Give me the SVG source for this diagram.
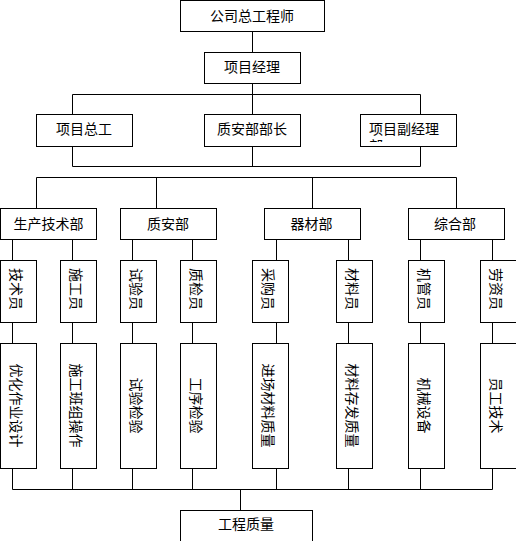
<svg xmlns="http://www.w3.org/2000/svg" width="516" height="541" viewBox="0 0 516 541">
<style>
rect{fill:#fff;stroke:#000;stroke-width:1}
.c line{stroke:#000;stroke-width:1}
text{font-family:"Noto Sans CJK SC","Noto Sans CJK JP",sans-serif;font-size:14px;fill:#000;dominant-baseline:central}
.m{text-anchor:middle}
</style>
<defs>
<clipPath id="clip3"><rect x="360" y="114" width="97" height="28"/></clipPath>
</defs>
<g class="c" id="connectors">
<line x1="252.5" y1="31.5" x2="252.5" y2="52.5"/>
<line x1="252.5" y1="83.5" x2="252.5" y2="114.5"/>
<line x1="72.5" y1="94.5" x2="420.5" y2="94.5"/>
<line x1="72.5" y1="94.5" x2="72.5" y2="114.5"/>
<line x1="420.5" y1="94.5" x2="420.5" y2="114.5"/>
<line x1="72.5" y1="146.5" x2="72.5" y2="166.5"/>
<line x1="252.5" y1="146.5" x2="252.5" y2="166.5"/>
<line x1="420.5" y1="146.5" x2="420.5" y2="166.5"/>
<line x1="72.5" y1="166.5" x2="420.5" y2="166.5"/>
<line x1="36.5" y1="177.5" x2="456.5" y2="177.5"/>
<line x1="36.5" y1="177.5" x2="36.5" y2="208.5"/>
<line x1="156.5" y1="177.5" x2="156.5" y2="208.5"/>
<line x1="312.5" y1="177.5" x2="312.5" y2="208.5"/>
<line x1="456.5" y1="177.5" x2="456.5" y2="208.5"/>
<line x1="12.5" y1="239.5" x2="12.5" y2="260.5"/>
<line x1="72.5" y1="239.5" x2="72.5" y2="260.5"/>
<line x1="132.5" y1="239.5" x2="132.5" y2="260.5"/>
<line x1="192.5" y1="239.5" x2="192.5" y2="260.5"/>
<line x1="276.5" y1="239.5" x2="276.5" y2="260.5"/>
<line x1="348.5" y1="239.5" x2="348.5" y2="260.5"/>
<line x1="420.5" y1="239.5" x2="420.5" y2="260.5"/>
<line x1="492.5" y1="239.5" x2="492.5" y2="260.5"/>
<line x1="12.5" y1="322.5" x2="12.5" y2="343.5"/>
<line x1="72.5" y1="322.5" x2="72.5" y2="343.5"/>
<line x1="132.5" y1="322.5" x2="132.5" y2="343.5"/>
<line x1="192.5" y1="322.5" x2="192.5" y2="343.5"/>
<line x1="276.5" y1="322.5" x2="276.5" y2="343.5"/>
<line x1="348.5" y1="322.5" x2="348.5" y2="343.5"/>
<line x1="420.5" y1="322.5" x2="420.5" y2="343.5"/>
<line x1="492.5" y1="322.5" x2="492.5" y2="343.5"/>
<line x1="12.5" y1="468.5" x2="12.5" y2="489.5"/>
<line x1="72.5" y1="468.5" x2="72.5" y2="489.5"/>
<line x1="132.5" y1="468.5" x2="132.5" y2="489.5"/>
<line x1="192.5" y1="468.5" x2="192.5" y2="489.5"/>
<line x1="276.5" y1="468.5" x2="276.5" y2="489.5"/>
<line x1="348.5" y1="468.5" x2="348.5" y2="489.5"/>
<line x1="420.5" y1="468.5" x2="420.5" y2="489.5"/>
<line x1="492.5" y1="468.5" x2="492.5" y2="489.5"/>
<line x1="12.5" y1="489.5" x2="492.5" y2="489.5"/>
<line x1="240.5" y1="489.5" x2="240.5" y2="510.5"/>
</g>
<g id="n_zgcs"><rect x="180.5" y="0.5" width="144" height="31"/><text class="m" x="252" y="15">公司总工程师</text></g>
<g id="n_xmjl"><rect x="204.5" y="52.5" width="96" height="31"/><text class="m" x="252" y="66">项目经理</text></g>
<g id="n_xmzg"><rect x="36.5" y="114.5" width="96" height="32"/><text class="m" x="84" y="128">项目总工</text></g>
<g id="n_zabbz"><rect x="204.5" y="114.5" width="96" height="32"/><text class="m" x="252" y="128">质安部部长</text></g>
<g id="n_xmfjl"><rect x="360.5" y="114.5" width="96" height="32"/><text x="369" y="128">项目副经理</text><text x="369" y="145" clip-path="url(#clip3)">部</text></g>
<g id="n_scjsb"><rect x="0.5" y="208.5" width="96" height="31"/><text class="m" x="48.5" y="223">生产技术部</text></g>
<g id="n_zab"><rect x="120.5" y="208.5" width="96" height="31"/><text class="m" x="168" y="223">质安部</text></g>
<g id="n_qcb"><rect x="264.5" y="208.5" width="96" height="31"/><text class="m" x="311.5" y="223">器材部</text></g>
<g id="n_zhb"><rect x="408.5" y="208.5" width="96" height="31"/><text class="m" x="455" y="223">综合部</text></g>
<g id="n_jsy"><rect x="0.5" y="260.5" width="36" height="62"/><text class="m" transform="translate(16.5,289) rotate(90)">技术员</text></g>
<g id="n_sgy"><rect x="60.5" y="260.5" width="36" height="62"/><text class="m" transform="translate(76.5,289) rotate(90)">施工员</text></g>
<g id="n_syy"><rect x="120.5" y="260.5" width="36" height="62"/><text class="m" transform="translate(136.5,289) rotate(90)">试验员</text></g>
<g id="n_zjy"><rect x="180.5" y="260.5" width="36" height="62"/><text class="m" transform="translate(196.5,289) rotate(90)">质检员</text></g>
<g id="n_cgy"><rect x="252.5" y="260.5" width="36" height="62"/><text class="m" transform="translate(268.5,289) rotate(90)">采购员</text></g>
<g id="n_cly"><rect x="336.5" y="260.5" width="36" height="62"/><text class="m" transform="translate(352.5,289) rotate(90)">材料员</text></g>
<g id="n_jgy"><rect x="408.5" y="260.5" width="36" height="62"/><text class="m" transform="translate(424.5,289) rotate(90)">机管员</text></g>
<g id="n_lzy"><rect x="480.5" y="260.5" width="36" height="62"/><text class="m" transform="translate(496.5,289) rotate(90)">劳资员</text></g>
<g id="n_yhzy"><rect x="0.5" y="343.5" width="36" height="125"/><text class="m" transform="translate(16.5,405.5) rotate(90)">优化作业设计</text></g>
<g id="n_sgbz"><rect x="60.5" y="343.5" width="36" height="125"/><text class="m" transform="translate(76.5,405.5) rotate(90)">施工班组操作</text></g>
<g id="n_syjy"><rect x="120.5" y="343.5" width="36" height="125"/><text class="m" transform="translate(136.5,405.5) rotate(90)">试验检验</text></g>
<g id="n_gxjy"><rect x="180.5" y="343.5" width="36" height="125"/><text class="m" transform="translate(196.5,405.5) rotate(90)">工序检验</text></g>
<g id="n_jcclzl"><rect x="252.5" y="343.5" width="36" height="125"/><text class="m" transform="translate(268.5,405.5) rotate(90)">进场材料质量</text></g>
<g id="n_clcfzl"><rect x="336.5" y="343.5" width="36" height="125"/><text class="m" transform="translate(352.5,405.5) rotate(90)">材料存发质量</text></g>
<g id="n_jxsb"><rect x="408.5" y="343.5" width="36" height="125"/><text class="m" transform="translate(424.5,405.5) rotate(90)">机械设备</text></g>
<g id="n_ygjs"><rect x="480.5" y="343.5" width="36" height="125"/><text class="m" transform="translate(496.5,405.5) rotate(90)">员工技术</text></g>
<g id="n_gczl"><rect x="180.5" y="510.5" width="132" height="40"/><text class="m" x="246" y="522.5">工程质量</text></g>
</svg>
